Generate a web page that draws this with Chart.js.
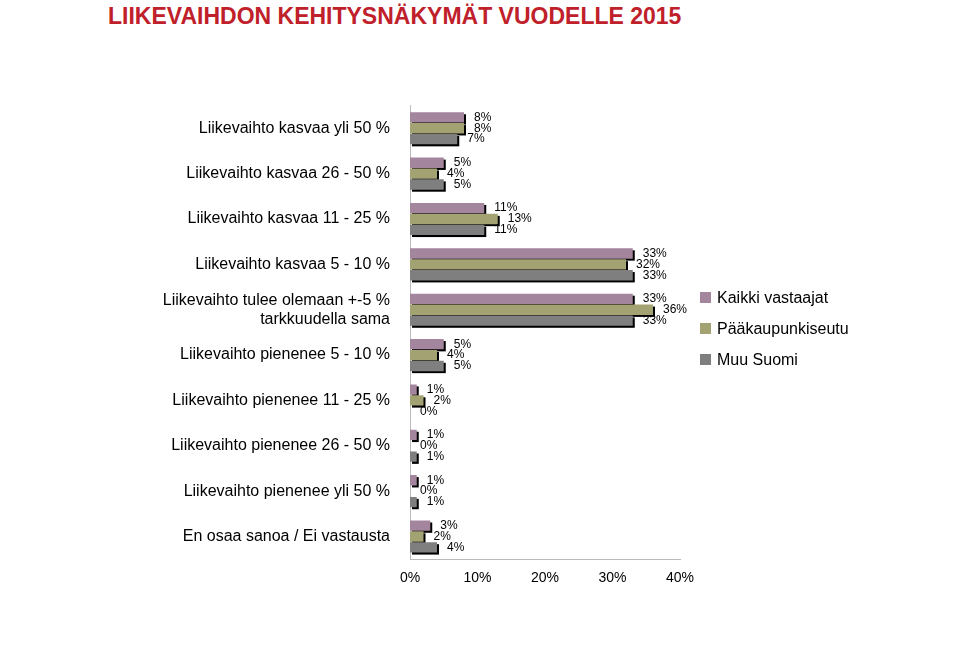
<!DOCTYPE html><html><head><meta charset="utf-8">
<script src="https://cdn.jsdelivr.net/npm/chart.js@4"></script>
<style>body{margin:0;background:#fff;font-family:"Liberation Sans",Arial,sans-serif}
#t{position:absolute;left:108px;top:3px;color:#c0202a;font-weight:bold;font-size:23px}
#c{position:absolute;left:0;top:84px}
#lg{position:absolute;left:700px;top:282px;font-size:16px;color:#000}
#lg div{height:31px;display:flex;align-items:center}
#lg span{display:inline-block;width:11px;height:11px;margin-right:6px}
</style></head><body>
<div id="t">LIIKEVAIHDON KEHITYSNÄKYMÄT VUODELLE 2015</div>
<canvas id="c" width="720" height="506"></canvas>
<div id="lg"><div><span style="background:#a3869e"></span>Kaikki vastaajat</div><div><span style="background:#a3a272"></span>Pääkaupunkiseutu</div><div><span style="background:#7f7f7f"></span>Muu Suomi</div></div>
<script>
const categories=["Liikevaihto kasvaa yli 50 %","Liikevaihto kasvaa 26 - 50 %","Liikevaihto kasvaa 11 - 25 %","Liikevaihto kasvaa 5 - 10 %",["Liikevaihto tulee olemaan +-5 %","tarkkuudella sama"],"Liikevaihto pienenee 5 - 10 %","Liikevaihto pienenee 11 - 25 %","Liikevaihto pienenee 26 - 50 %","Liikevaihto pienenee yli 50 %","En osaa sanoa / Ei vastausta"];
const kaikki=[8,5,11,33,33,5,1,1,1,3];
const paak=[8,4,13,32,36,4,2,0,0,2];
const muu=[7,5,11,33,33,5,0,1,1,4];
const shadow={id:'sh',beforeDatasetsDraw(c){const x=c.ctx;x.save();x.fillStyle='#000';c.data.datasets.forEach((d,i)=>{c.getDatasetMeta(i).data.forEach(b=>{if(b.x-b.base>0){x.fillRect(b.base+2,b.y-b.height/2+2,b.x-b.base,b.height);}});});x.restore();},
afterDatasetsDraw(c){const x=c.ctx;x.save();x.font='12px "Liberation Sans"';x.fillStyle='#000';x.textBaseline='middle';
c.data.datasets.forEach((d,i)=>{c.getDatasetMeta(i).data.forEach((b,j)=>{x.fillText(d.data[j]+'%',b.x+10,b.y);});});x.restore();}};
new Chart(document.getElementById('c'),{type:'bar',data:{labels:categories,datasets:[
{data:kaikki,backgroundColor:'#a3869e',barPercentage:0.95,categoryPercentage:0.72},
{data:paak,backgroundColor:'#a3a272',barPercentage:0.95,categoryPercentage:0.72},
{data:muu,backgroundColor:'#7f7f7f',barPercentage:0.95,categoryPercentage:0.72}]},
options:{indexAxis:'y',responsive:false,animation:false,layout:{padding:{left:10,right:40,top:5,bottom:0}},
plugins:{legend:{display:false},tooltip:{enabled:false}},
scales:{x:{min:0,max:40,ticks:{stepSize:10,callback:v=>v+'%',color:'#000',font:{size:14,family:'Liberation Sans'}},grid:{display:false},border:{color:'#bbb'}},
y:{afterFit:s=>{s.width=400},ticks:{color:'#000',font:{size:16,family:'Liberation Sans'},padding:12},grid:{display:false},border:{color:'#bbb'}}}},plugins:[shadow]});
</script></body></html>
